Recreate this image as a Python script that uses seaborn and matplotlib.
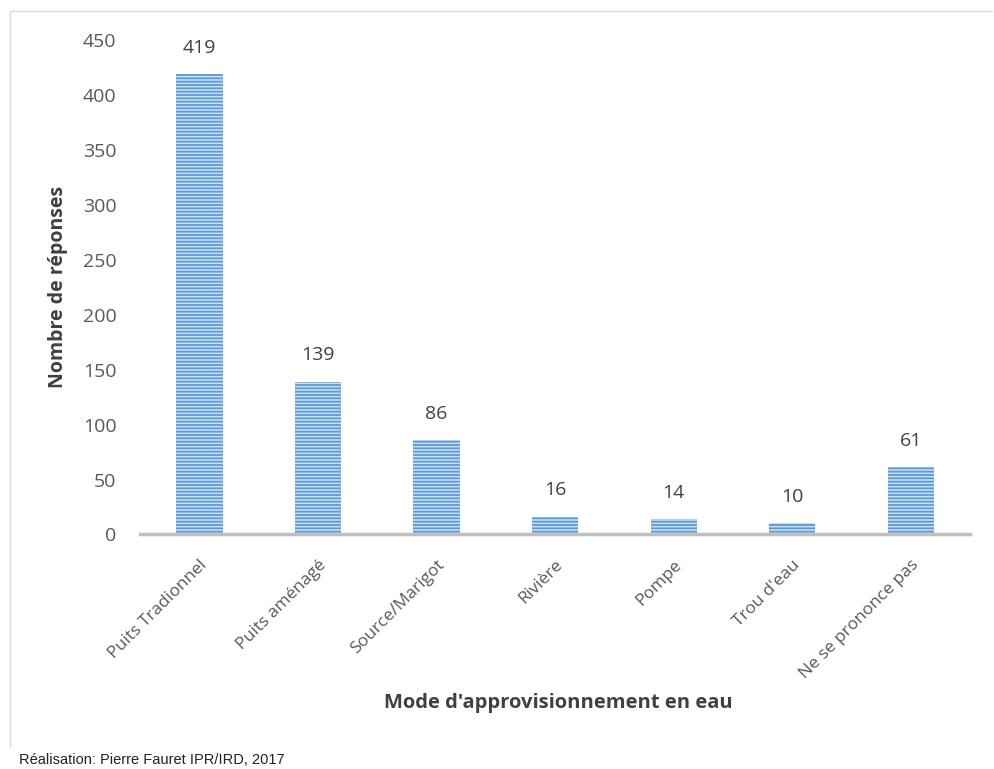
import matplotlib
matplotlib.use("Agg")
import matplotlib.pyplot as plt
from matplotlib.lines import Line2D
import seaborn as sns
import pandas as pd

categories = ["Puits Tradionnel", "Puits aménagé", "Source/Marigot", "Rivière",
              "Pompe", "Trou d'eau", "Ne se prononce pas"]
values = [419, 139, 86, 16, 14, 10, 61]
yticks = [0, 50, 100, 150, 200, 250, 300, 350, 400, 450]

sns.set_style("white")
plt.rcParams["font.family"] = ["Open Sans", "DejaVu Sans"]
plt.rcParams["hatch.linewidth"] = 1.3

df = pd.DataFrame({"mode": categories, "n": values})

fig = plt.figure(figsize=(9.94, 7.69), dpi=100)
ax = fig.add_axes([0.141, 0.305, 0.835, 0.643])

sns.barplot(data=df, x="mode", y="n", ax=ax, color="#c9e0f5", width=0.39,
            saturation=1, edgecolor="#5b9bd5", linewidth=0)
for p in ax.patches:
    p.set_hatch("-----")
    p.set_linewidth(0)

for i, v in enumerate(values):
    ax.annotate(str(v), (i, v), xytext=(0, 19), textcoords="offset points",
                ha="center", va="center", fontsize=14, color="#404040")

ax.set_ylim(0, 450)
ax.set_yticks(yticks)
ax.set_xlim(-0.5, len(categories) - 0.5)
ax.tick_params(axis="y", labelsize=14, labelcolor="#595959", length=0, pad=17)
ax.tick_params(axis="x", labelsize=12.5, labelcolor="#595959", length=0, pad=16)
plt.setp(ax.get_xticklabels(), rotation=45, ha="right", rotation_mode="anchor")

for s in ["top", "right", "left"]:
    ax.spines[s].set_visible(False)
ax.spines["bottom"].set_color("#bfbfbf")
ax.spines["bottom"].set_linewidth(2.5)

ax.set_ylabel("Nombre de réponses", fontsize=14, fontweight="bold", color="#404040", labelpad=11)
ax.set_xlabel("")
fig.text(0.562, 0.086, "Mode d'approvisionnement en eau", ha="center", va="center",
         fontsize=14.5, fontweight="bold", color="#404040")

fig.text(0.019, 0.006, "Réalisation: Pierre Fauret IPR/IRD, 2017", ha="left", va="baseline",
         fontsize=10.5, family="Liberation Sans", color="#222222")

# cadre gris autour du graphique
fig.add_artist(Line2D([0.0105, 0.0105], [0.028, 0.986], color="#d9d9d9", lw=1))
fig.add_artist(Line2D([0.0105, 0.998], [0.986, 0.986], color="#d9d9d9", lw=1))

fig.savefig("out.png", dpi=100)
